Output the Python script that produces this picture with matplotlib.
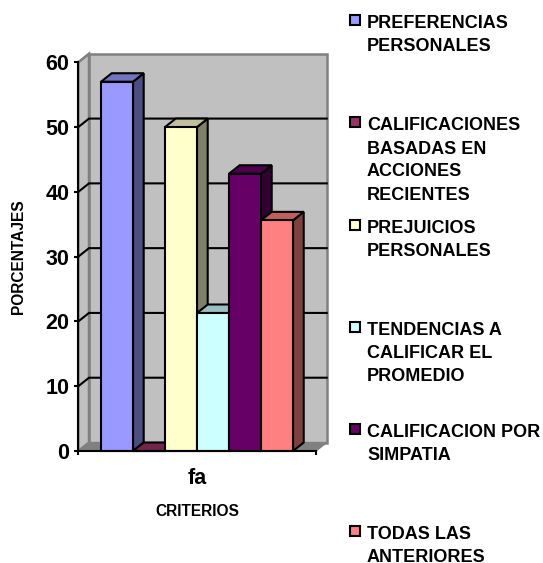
import matplotlib
matplotlib.use("Agg")
import matplotlib.pyplot as plt
from matplotlib.colors import to_rgb
from matplotlib.patches import Polygon, Rectangle

categories = [
    "PREFERENCIAS\nPERSONALES",
    "CALIFICACIONES\nBASADAS EN\nACCIONES\nRECIENTES",
    "PREJUICIOS\nPERSONALES",
    "TENDENCIAS A\nCALIFICAR EL\nPROMEDIO",
    "CALIFICACION POR\nSIMPATIA",
    "TODAS LAS\nANTERIORES",
]
values = [57, 0, 50, 21.3, 42.8, 35.6]
colors = ["#9999FF", "#993366", "#FFFFCC", "#CCFFFF", "#660066", "#FF8080"]
y_ticks = [0, 10, 20, 30, 40, 50, 60]
group_label = "fa"

W, H = 543, 563
plt.rcParams["font.family"] = ["Liberation Sans", "DejaVu Sans"]
plt.rcParams["font.weight"] = "bold"

fig = plt.figure(figsize=(W / 100, H / 100), dpi=100, facecolor="white")

# Front plane of the 3D box, in pixels
left, right, top, bottom = 78.3, 316.0, 62.3, 451.0
ax = fig.add_axes([left / W, 1 - bottom / H, (right - left) / W, (bottom - top) / H])
ax.patch.set_visible(False)

bar_px = 32.0
x0 = -0.5 - (101.0 - left) / bar_px
x1 = x0 + (right - left) / bar_px
ax.set_xlim(x0, x1)
ax.set_ylim(0, 60)

# Depth of the box expressed in data units
dx = 10.7 / bar_px
dy = 8.5 / ((bottom - top) / 60)
LW = 1.5


def face(points, color, edge="black", lw=LW, z=2.0):
    ax.add_patch(Polygon(points, closed=True, facecolor=color, edgecolor=edge,
                         linewidth=lw, zorder=z, clip_on=False, joinstyle="miter"))


def shade(color, k):
    return tuple(c * k for c in to_rgb(color))


# Walls and floor
face([(x0 + dx, dy), (x1 + dx, dy), (x1 + dx, 60 + dy), (x0 + dx, 60 + dy)],
     "#C0C0C0", "#808080", 1.8, 1.0)
face([(x0, 0), (x0 + dx, dy), (x0 + dx, 60 + dy), (x0, 60)], "#C0C0C0", "#808080", 1.8, 1.0)
face([(x0, 0), (x1, 0), (x1 + dx, dy), (x0 + dx, dy)], "#808080", "#808080", 1.0, 1.0)

# Gridlines on the back wall with their slanted runs on the side wall
for v in y_ticks[1:-1]:
    ax.plot([x0, x0 + dx, x1 + dx], [v, v + dy, v + dy], color="black", lw=LW,
            zorder=1.2, clip_on=False, solid_joinstyle="miter")
ax.plot([x0, x0 + dx], [60, 60 + dy], color="#808080", lw=1.5, zorder=1.2, clip_on=False)

# Bars: side, top, then front face so later bars overlap earlier ones
for i, (v, c) in enumerate(zip(values, colors)):
    a, b = i - 0.5, i + 0.5
    z = 2 + i * 0.1
    face([(b, 0), (b + dx, dy), (b + dx, v + dy), (b, v)], shade(c, 0.5), z=z)
    face([(a, v), (b, v), (b + dx, v + dy), (a + dx, v + dy)], shade(c, 0.75), z=z)
    ax.bar(i, v, width=1.0, color=c, edgecolor="black", linewidth=LW, zorder=z + 0.01,
           clip_on=False)

for s in ("top", "right"):
    ax.spines[s].set_visible(False)
for s in ("left", "bottom"):
    ax.spines[s].set_linewidth(LW)
    ax.spines[s].set_zorder(4)

ax.set_yticks(y_ticks)
ax.tick_params(axis="y", length=3, width=LW, labelsize=15.5, pad=3.5)
ax.set_xticks([x0, x1], ["", ""])
ax.tick_params(axis="x", which="major", length=3, width=LW)
ax.set_xticks([2.5], [group_label], minor=True)
ax.tick_params(axis="x", which="minor", length=0, labelsize=15.5, pad=12)

fig.text(197.5 / W, 1 - 512 / H, "CRITERIOS", ha="center", va="center",
         fontsize=11.2, fontweight="bold")
fig.text(18.5 / W, 1 - 256.5 / H, "PORCENTAJES", ha="center", va="center", rotation=90,
         fontsize=11.2, fontweight="bold")

# Legend entries placed by hand down the right-hand column
legend_first_line_y = [21.5, 124, 226.5, 328.5, 430.5, 532.5]
line_step = 23.0
for label, c, y in zip(categories, colors, legend_first_line_y):
    fig.add_artist(Rectangle((350.3 / W, 1 - (y + 3) / H), 9.5 / W, 9.5 / H, facecolor=c,
                             edgecolor="black", linewidth=LW, transform=fig.transFigure))
    for j, line in enumerate(label.split("\n")):
        fig.text(367 / W, 1 - (y + 6.5 + j * line_step) / H, line, ha="left", va="baseline",
                 fontsize=13, fontweight="bold")

fig.savefig("out.png", dpi=100)
